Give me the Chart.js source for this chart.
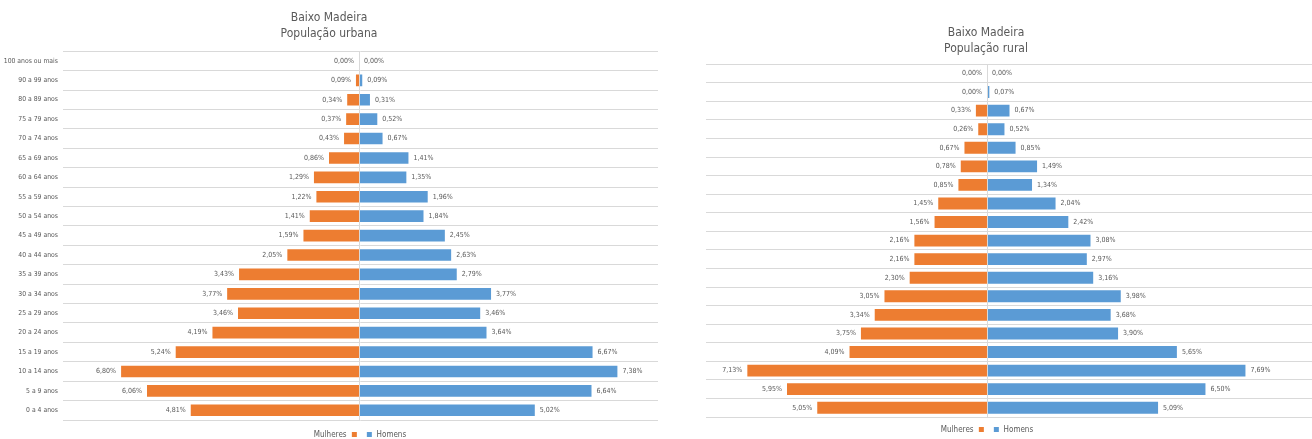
<!DOCTYPE html>
<html>
<head>
<meta charset="utf-8">
<script src="https://cdn.jsdelivr.net/npm/chart.js@4"></script>
<style>
  body { margin: 0; background: #fff; width: 1312px; height: 439px; overflow: hidden; position: relative; font-family: "Liberation Sans Narrow", "DejaVu Sans Condensed", sans-serif; }
  .box { position: absolute; top: 0; }
  .legend { position: absolute; font-size: 8px; color: #595959; white-space: nowrap; transform: translateX(-50%); }
  .legend i { display: inline-block; width: 5px; height: 5px; margin: 0 5px; vertical-align: middle; }
</style>
</head>
<body>
<div class="box" style="left:0;width:660px;height:439px"><canvas id="chart-urbana"></canvas></div>
<div class="box" style="left:660px;width:652px;height:439px"><canvas id="chart-rural"></canvas></div>
<div class="legend" style="left:360px;top:430px">Mulheres<i style="background:#ED7D31"></i><i style="background:#5B9BD5"></i>Homens</div>
<div class="legend" style="left:987px;top:425px">Mulheres<i style="background:#ED7D31"></i><i style="background:#5B9BD5"></i>Homens</div>
<script>
// faixas etárias, de cima para baixo
const faixas = ['100 anos ou mais', '90 a 99 anos', '80 a 89 anos', '75 a 79 anos', '70 a 74 anos',
    '65 a 69 anos', '60 a 64 anos', '55 a 59 anos', '50 a 54 anos', '45 a 49 anos', '40 a 44 anos',
    '35 a 39 anos', '30 a 34 anos', '25 a 29 anos', '20 a 24 anos', '15 a 19 anos', '10 a 14 anos',
    '5 a 9 anos', '0 a 4 anos'];

// População urbana (%)
const urbanaMulheres = [0.00, 0.09, 0.34, 0.37, 0.43, 0.86, 1.29, 1.22, 1.41, 1.59, 2.05, 3.43, 3.77, 3.46, 4.19, 5.24, 6.80, 6.06, 4.81];
const urbanaHomens = [0.00, 0.09, 0.31, 0.52, 0.67, 1.41, 1.35, 1.96, 1.84, 2.45, 2.63, 2.79, 3.77, 3.46, 3.64, 6.67, 7.38, 6.64, 5.02];

// População rural (%)
const ruralMulheres = [0.00, 0.00, 0.33, 0.26, 0.67, 0.78, 0.85, 1.45, 1.56, 2.16, 2.16, 2.30, 3.05, 3.34, 3.75, 4.09, 7.13, 5.95, 5.05];
const ruralHomens = [0.00, 0.07, 0.67, 0.52, 0.85, 1.49, 1.34, 2.04, 2.42, 3.08, 2.97, 3.16, 3.98, 3.68, 3.90, 5.65, 7.69, 6.50, 5.09];

const FONT = '"Liberation Sans Narrow", "DejaVu Sans Condensed", sans-serif';
const GRAY = '#595959';
const GRID = '#d9d9d9';

function fmt(v) {
    return Math.abs(v).toFixed(2).replace('.', ',') + '%';
}

// rótulos de valor + eixo central
const rotulos = {
    id: 'rotulos',
    afterDatasetsDraw(chart) {
        const ctx = chart.ctx;
        const area = chart.chartArea;
        const x0 = chart.scales.x.getPixelForValue(0);
        ctx.save();
        ctx.strokeStyle = GRID;
        ctx.lineWidth = 1;
        ctx.beginPath();
        ctx.moveTo(Math.round(x0) + 0.5, area.top);
        ctx.lineTo(Math.round(x0) + 0.5, area.bottom);
        ctx.stroke();
        ctx.font = '7px ' + FONT;
        ctx.fillStyle = GRAY;
        ctx.textBaseline = 'middle';
        chart.data.datasets.forEach((ds, i) => {
            const meta = chart.getDatasetMeta(i);
            meta.data.forEach((el, j) => {
                const v = ds.data[j];
                if (i === 0) {
                    ctx.textAlign = 'right';
                    ctx.fillText(fmt(v), Math.min(el.x, x0) - 5, el.y);
                } else {
                    ctx.textAlign = 'left';
                    ctx.fillText(fmt(v), Math.max(el.x, x0) + 5, el.y);
                }
            });
        });
        ctx.restore();
    }
};

function piramide(id, titulo, mulheres, homens, opt) {
    const ctx = document.getElementById(id).getContext('2d');
    return new Chart(ctx, {
        type: 'bar',
        data: {
            labels: faixas,
            datasets: [
                { label: 'Mulheres', data: mulheres.map(v => -v), backgroundColor: '#ED7D31', barPercentage: opt.bar, categoryPercentage: 1 },
                { label: 'Homens', data: homens, backgroundColor: '#5B9BD5', barPercentage: opt.bar, categoryPercentage: 1 }
            ]
        },
        options: {
            indexAxis: 'y',
            responsive: true,
            maintainAspectRatio: false,
            animation: false,
            layout: { padding: { top: opt.top, bottom: opt.bottom, left: 0, right: opt.right } },
            plugins: {
                legend: { display: false },
                tooltip: { enabled: false },
                title: {
                    display: true,
                    text: ['Baixo Madeira', titulo],
                    color: GRAY,
                    font: { family: FONT, size: 12, weight: 'normal', lineHeight: 1.3 },
                    padding: { top: 0, bottom: opt.titleGap }
                }
            },
            scales: {
                x: {
                    display: false,
                    stacked: true,
                    min: opt.min,
                    max: opt.max
                },
                y: {
                    stacked: true,
                    border: { display: false },
                    grid: { color: GRID, drawTicks: false },
                    ticks: {
                        display: opt.ticks,
                        color: GRAY,
                        padding: 5,
                        font: { family: FONT, size: 6.8 }
                    },
                    afterFit(scale) { scale.width = opt.yWidth; }
                }
            }
        },
        plugins: [rotulos]
    });
}

piramide('chart-urbana', 'População urbana', urbanaMulheres, urbanaHomens,
    { top: 10, bottom: 19, right: 2, titleGap: 10, min: -8.46, max: 8.54, bar: 0.6, ticks: true, yWidth: 63 });
piramide('chart-rural', 'População rural', ruralMulheres, ruralHomens,
    { top: 25, bottom: 22, right: 0, titleGap: 8, min: -8.36, max: 9.67, bar: 0.64, ticks: false, yWidth: 46 });
</script>
</body>
</html>
